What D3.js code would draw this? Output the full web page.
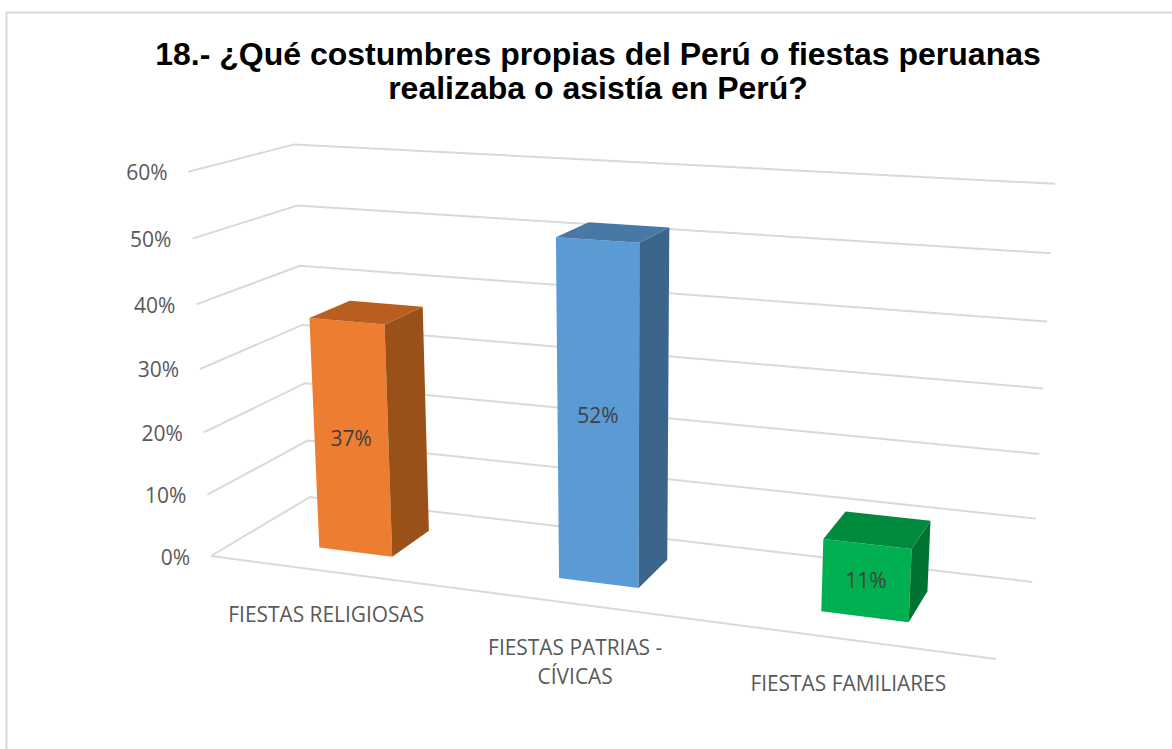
<!DOCTYPE html>
<html><head><meta charset="utf-8">
<script src="https://cdn.jsdelivr.net/npm/d3@7"></script>
<style>html,body{margin:0;padding:0;background:#fff}svg{display:block}</style>
</head><body><svg id="c" width="1172" height="749"></svg>
<script>
// ---- data ----
const titleLines = ["18.- ¿Qué costumbres propias del Perú o fiestas peruanas", "realizaba o asistía en Perú?"];
const categories = ["FIESTAS RELIGIOSAS", "FIESTAS PATRIAS -|CÍVICAS", "FIESTAS FAMILIARES"];
const values = [37, 52, 11];
const valueLabels = ["37%", "52%", "11%"];
const tickValues = [0, 10, 20, 30, 40, 50, 60];
const tickLabels = ["0%", "10%", "20%", "30%", "40%", "50%", "60%"];
const frontColors = ["#ED7D31", "#5B9BD5", "#00B050"];
const sideColors = ["#9A5119", "#3B658B", "#007332"];
const topColors = ["#B85F1F", "#4778A6", "#008A3E"];

// ---- camera: projective map of the unit box onto the page ----
const floorFL = [211, 556], floorFR = [996, 659], floorBR = [1032, 582], floorBL = [310, 497];
const wallTops = [[0, 0, 188, 172], [0, 1, 295, 144], [1, 1, 1055, 184]];

function solve3(A, b) {
  const M = A.map((r, i) => [...r, b[i]]);
  for (let i = 0; i < 3; i++) {
    let p = i; for (let k = i + 1; k < 3; k++) if (Math.abs(M[k][i]) > Math.abs(M[p][i])) p = k;
    [M[i], M[p]] = [M[p], M[i]];
    for (let k = 0; k < 3; k++) if (k !== i) {
      const f = M[k][i] / M[i][i];
      for (let j = i; j < 4; j++) M[k][j] -= f * M[i][j];
    }
  }
  return M.map((r, i) => r[3] / r[i]);
}
const [x0, y0] = floorFL, [x1, y1] = floorFR, [x2, y2] = floorBR, [x3, y3] = floorBL;
const dx1 = x1 - x2, dx2 = x3 - x2, sx = x0 - x1 + x2 - x3;
const dy1 = y1 - y2, dy2 = y3 - y2, sy = y0 - y1 + y2 - y3;
const den = dx1 * dy2 - dx2 * dy1;
const g = (sx * dy2 - dx2 * sy) / den, h = (dx1 * sy - sx * dy1) / den;
const a = x1 - x0 + g * x1, b = x3 - x0 + h * x3, c = x0;
const d = y1 - y0 + g * y1, e = y3 - y0 + h * y3, f = y0;
// fit the vertical column by least squares
const rows = [], rhs = [];
wallTops.forEach(([u, w, px, py]) => {
  const X = a * u + b * w + c, Y = d * u + e * w + f, W = g * u + h * w + 1;
  rows.push([1, 0, -px]); rhs.push(px * W - X);
  rows.push([0, 1, -py]); rhs.push(py * W - Y);
});
const ATA = [0, 1, 2].map(i => [0, 1, 2].map(j => d3.sum(rows, r => r[i] * r[j])));
const ATb = [0, 1, 2].map(i => d3.sum(rows, (r, k) => r[i] * rhs[k]));
const [p, q, r] = solve3(ATA, ATb);
const project = (u, w, z) => {
  const W = g * u + h * w + r * z + 1;
  return [(a * u + b * w + p * z + c) / W, (d * u + e * w + q * z + f) / W];
};

// ---- scales ----
const xBand = d3.scaleBand().domain(d3.range(categories.length)).range([0, 1]).paddingInner(0.6865).paddingOuter(0.343);
const depthBand = d3.scaleBand().domain([0]).range([0, 1]).paddingInner(0).paddingOuter(0.7);
const zScale = d3.scaleLinear().domain([0, 60]).range([0, 1]);

const svg = d3.select("#c");
const line = d3.line();
const FONT = "'Open Sans', sans-serif";

// chart border (top and left only are visible)
svg.append("path").attr("d", line([[6.5, 749], [6.5, 12.5], [1172, 12.5]]))
  .attr("fill", "none").attr("stroke", "#D9D9D9").attr("stroke-width", 2);

// title
svg.append("g").selectAll("text").data(titleLines).join("text")
  .attr("x", 598).attr("y", (t, i) => 65 + i * 34)
  .attr("text-anchor", "middle").attr("font-family", "'Liberation Sans', Arial, sans-serif")
  .attr("font-weight", "bold").attr("font-size", 32).attr("fill", "#000").text(t => t);

// gridlines: front-left → back-left → back-right, and the floor edge
const grid = svg.append("g").attr("fill", "none").attr("stroke", "#D9D9D9").attr("stroke-width", 2);
grid.selectAll("path.g").data(tickValues).join("path").attr("class", "g")
  .attr("d", v => { const z = zScale(v); return line([project(0, 0, z), project(0, 1, z), project(1, 1, z)]); });
grid.append("path").attr("d", line([project(0, 0, 0), project(1, 0, 0)]));

// value-axis labels
svg.append("g").selectAll("text").data(tickValues).join("text")
  .attr("x", v => project(0, 0, zScale(v))[0] - 21)
  .attr("y", v => project(0, 0, zScale(v))[1] + 8.5)
  .attr("text-anchor", "end").attr("font-family", FONT).attr("font-size", 21).attr("fill", "#595959")
  .text((v, i) => tickLabels[i]);

// bars
const bars = svg.append("g").selectAll("g").data(values).join("g");
const box = (v, i) => {
  const u0 = xBand(i), u1 = u0 + xBand.bandwidth();
  const w0 = depthBand(0), w1 = w0 + depthBand.bandwidth();
  const z = zScale(v);
  return { u0, u1, w0, w1, z };
};
bars.append("path").attr("fill", (v, i) => frontColors[i]).attr("d", (v, i) => {
  const s = box(v, i);
  return line([project(s.u0, s.w0, 0), project(s.u1, s.w0, 0), project(s.u1, s.w0, s.z), project(s.u0, s.w0, s.z)]) + "Z";
});
bars.append("path").attr("fill", (v, i) => sideColors[i]).attr("d", (v, i) => {
  const s = box(v, i);
  return line([project(s.u1, s.w0, 0), project(s.u1, s.w1, 0), project(s.u1, s.w1, s.z), project(s.u1, s.w0, s.z)]) + "Z";
});
bars.append("path").attr("fill", (v, i) => topColors[i]).attr("d", (v, i) => {
  const s = box(v, i);
  return line([project(s.u0, s.w0, s.z), project(s.u1, s.w0, s.z), project(s.u1, s.w1, s.z), project(s.u0, s.w1, s.z)]) + "Z";
});
// data labels
bars.append("text")
  .attr("transform", (v, i) => {
    const s = box(v, i), um = (s.u0 + s.u1) / 2;
    const [px, py] = project(um, s.w0, s.z / 2);
    return `translate(${px},${py + 7.5})`;
  })
  .attr("text-anchor", "middle").attr("font-family", FONT).attr("font-size", 21).attr("fill", "#404040")
  .text((v, i) => valueLabels[i]);

// category labels
svg.append("g").selectAll("text").data(categories).join("text")
  .attr("transform", (t, i) => {
    const [px, py] = project(xBand(i) + xBand.bandwidth() / 2, 0, 0);
    return `translate(${px - 1},${py + 51})`;
  })
  .attr("text-anchor", "middle").attr("font-family", FONT).attr("font-size", 20.9).attr("fill", "#595959")
  .selectAll("tspan").data(t => t.split("|")).join("tspan")
  .attr("x", 0).attr("dy", (s, j) => j ? 29 : 0).text(s => s);
</script></body></html>
